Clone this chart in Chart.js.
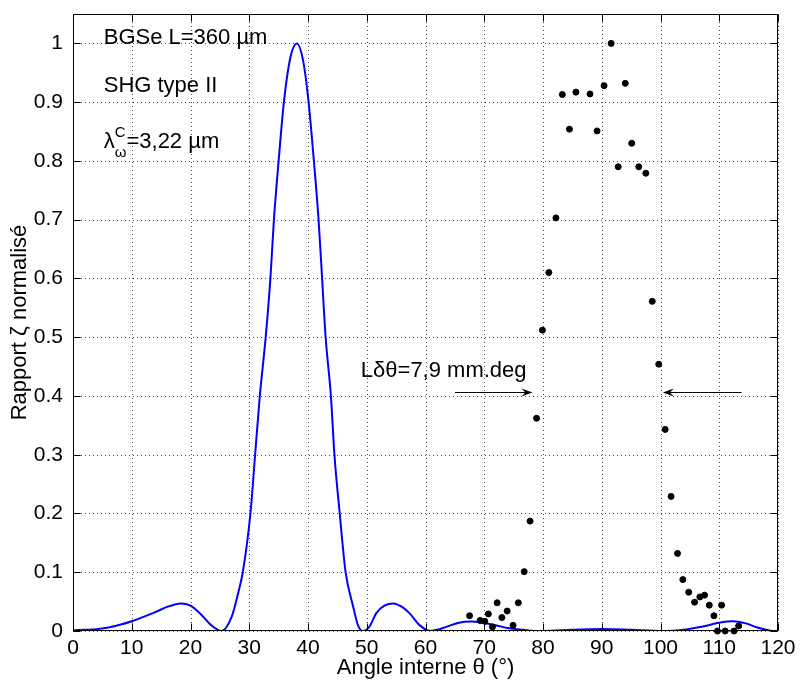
<!DOCTYPE html>
<html><head><meta charset="utf-8">
<script src="https://cdn.jsdelivr.net/npm/chart.js@4/dist/chart.umd.min.js"></script>
<style>html,body{margin:0;padding:0;background:#fff}canvas{display:block}</style>
</head><body>
<canvas id="c" width="800" height="681"></canvas>
<script>
// Theoretical curve
const curveX = [0,2,4,6,8,10,12,14,16,18.4,20,22,23.5,25.3,27,28,28.9,30.2,31.0,31.8,32.8,33.6,34.2,35.0,35.9,37,38.1,39.2,40.1,41.0,41.8,42.4,43.0,43.9,44.5,45.4,46.4,47.7,48.5,49.3,50.5,51.6,53,54.5,56,57.3,59,60.8,62,63.5,65.5,67.8,70,72.1,74,75.5,78,80,85,90,95,100,102,104,106,108,110,112.3,114.5,116.5,118.5,119.7,120];
const curveY = [0.001,0.002,0.003,0.006,0.0105,0.0165,0.024,0.032,0.041,0.047,0.043,0.026,0.01,0,0.024,0.06,0.1,0.2,0.3,0.4,0.5,0.6,0.7,0.8,0.9,0.976,1.0,0.969,0.9,0.8,0.7,0.6,0.5,0.4,0.3,0.2,0.1,0.041,0.01,0,0.008,0.03,0.043,0.047,0.041,0.03,0.01,0,0.002,0.007,0.0135,0.016,0.0135,0.0095,0.005,0.003,0.0005,0,0.002,0.0035,0.002,0,0.0005,0.002,0.0055,0.0095,0.014,0.0165,0.013,0.006,0.001,0,0];
// Measured points
const dotX = [67.5,69.3,70.1,70.7,71.4,72.2,73.0,73.9,74.9,75.8,76.8,77.8,78.9,79.9,81.0,82.2,83.3,84.5,85.6,88.0,89.2,90.4,91.6,92.8,94.0,95.1,96.3,97.5,98.6,99.7,100.8,101.8,102.9,103.8,104.8,105.8,106.7,107.5,108.3,109.1,109.7,110.4,111.0,112.5,113.3];
const dotY = [0.026,0.018,0.0165,0.029,0.007,0.048,0.023,0.034,0.0097,0.048,0.101,0.187,0.362,0.512,0.610,0.703,0.913,0.854,0.917,0.914,0.851,0.928,1.0,0.790,0.932,0.830,0.790,0.779,0.561,0.454,0.343,0.229,0.132,0.0875,0.066,0.049,0.058,0.061,0.044,0.026,0,0.044,0,0,0.0085];
// Ticks
const xTicks = [0,10,20,30,40,50,60,70,80,90,100,110,120];
const yTicks = [0,0.1,0.2,0.3,0.4,0.5,0.6,0.7,0.8,0.9,1];
const xLabel = 'Angle interne θ (°)';
const yLabel = 'Rapport ζ normalisé';
const noteLines = ['BGSe L=360 µm', 'SHG type II'];
const widthNote = 'Lδθ=7,9 mm.deg';

const FONT = '"Liberation Sans", Arial, Helvetica, sans-serif';

const gridPlugin = {
  id: 'dotgrid',
  beforeDatasetsDraw(chart) {
    const {ctx, chartArea: a, scales: {x, y}} = chart;
    ctx.save();
    ctx.strokeStyle = 'rgba(0,0,0,0.7)';
    ctx.lineWidth = 1;
    ctx.setLineDash([1, 3]);
    ctx.beginPath();
    xTicks.forEach(v => {
      const p = Math.round(x.getPixelForValue(v)) + 0.5;
      ctx.moveTo(p, a.top); ctx.lineTo(p, a.bottom);
    });
    yTicks.forEach(v => {
      const p = Math.round(y.getPixelForValue(v)) + 0.5;
      ctx.moveTo(a.left, p); ctx.lineTo(a.right, p);
    });
    ctx.stroke();
    ctx.restore();
  }
};

const deco = {
  id: 'deco',
  afterDraw(chart) {
    const {ctx, chartArea: a, scales: {x, y}} = chart;
    ctx.save();
    const L = Math.round(a.left) + 0.5, R = Math.round(a.right) - 0.5;
    const T = Math.round(a.top) + 0.5, B = Math.round(a.bottom) - 0.5;
    ctx.strokeStyle = '#000';
    ctx.lineWidth = 1;
    ctx.setLineDash([]);
    ctx.beginPath();
    ctx.rect(L, T, R - L, B - T);
    const tl = 7;
    xTicks.forEach(v => {
      const p = Math.round(x.getPixelForValue(v)) + 0.5;
      ctx.moveTo(p, B); ctx.lineTo(p, B - tl);
      ctx.moveTo(p, T); ctx.lineTo(p, T + tl);
    });
    yTicks.forEach(v => {
      const p = Math.round(y.getPixelForValue(v)) + 0.5;
      ctx.moveTo(L, p); ctx.lineTo(L + tl, p);
      ctx.moveTo(R, p); ctx.lineTo(R - tl, p);
    });
    ctx.stroke();

    // annotations
    ctx.fillStyle = '#000';
    ctx.textBaseline = 'alphabetic';
    ctx.textAlign = 'left';
    ctx.font = '22px ' + FONT;
    const tx = x.getPixelForValue(5.23);
    ctx.fillText(noteLines[0], tx, y.getPixelForValue(0.9983));
    ctx.fillText(noteLines[1], tx, y.getPixelForValue(0.9166));
    const by = y.getPixelForValue(0.8218);
    ctx.fillText('λ', tx, by);
    const lw = ctx.measureText('λ').width;
    ctx.font = '15px ' + FONT;
    ctx.fillText('C', tx + lw, by - 11);
    ctx.fillText('ω', tx + lw, by + 9);
    const sw = Math.max(ctx.measureText('C').width, ctx.measureText('ω').width);
    ctx.font = '22px ' + FONT;
    ctx.fillText('=3,22 µm', tx + lw + sw, by);

    ctx.textAlign = 'right';
    ctx.fillText(widthNote, x.getPixelForValue(77.2), y.getPixelForValue(0.432));

    // arrows
    const arrow = (x0, x1, yv) => {
      const px0 = x.getPixelForValue(x0), px1 = x.getPixelForValue(x1);
      const py = Math.round(y.getPixelForValue(yv)) + 0.5;
      const d = Math.sign(px1 - px0);
      ctx.beginPath();
      ctx.moveTo(px0, py); ctx.lineTo(px1 - d * 6, py);
      ctx.stroke();
      ctx.beginPath();
      ctx.moveTo(px1, py);
      ctx.lineTo(px1 - d * 11, py - 4);
      ctx.lineTo(px1 - d * 7, py);
      ctx.lineTo(px1 - d * 11, py + 4);
      ctx.closePath();
      ctx.fill();
    };
    arrow(65.0, 78.2, 0.406);
    arrow(113.8, 100.4, 0.406);
    ctx.restore();
  }
};

new Chart(document.getElementById('c'), {
  type: 'scatter',
  data: {
    datasets: [
      {
        label: 'mesures',
        data: dotX.map((v, i) => ({x: v, y: dotY[i]})),
        pointRadius: 3,
        pointBorderWidth: 1,
        pointBackgroundColor: '#000',
        pointBorderColor: '#000',
        showLine: false,
        clip: false,
        order: 0
      },
      {
        label: 'théorie',
        data: curveX.map((v, i) => ({x: v, y: curveY[i]})),
        showLine: true,
        pointRadius: 0,
        borderColor: '#0000ff',
        borderWidth: 2,
        cubicInterpolationMode: 'monotone',
        order: 1
      }
    ]
  },
  options: {
    responsive: false,
    animation: false,
    devicePixelRatio: 1,
    layout: {padding: {top: 14, right: 22, left: 0, bottom: 0}},
    plugins: {legend: {display: false}, tooltip: {enabled: false}},
    scales: {
      x: {
        type: 'linear', min: 0, max: 120,
        afterBuildTicks: s => { s.ticks = xTicks.map(v => ({value: v})); },
        afterFit: s => { s.height = 50; s.paddingLeft = 0; s.paddingRight = 0; },
        grid: {display: false, drawTicks: false},
        border: {display: false},
        ticks: {padding: 5, color: '#000', font: {family: FONT, size: 21}, maxRotation: 0, callback: v => String(v)},
        title: {display: true, text: xLabel, color: '#000', font: {family: FONT, size: 22}, padding: {top: 0, bottom: 0}}
      },
      y: {
        type: 'linear', min: 0, max: 1.05,
        afterBuildTicks: s => { s.ticks = yTicks.map(v => ({value: v})); },
        afterFit: s => { s.width = 73; s.paddingTop = 0; s.paddingBottom = 0; },
        grid: {display: false, drawTicks: false},
        border: {display: false},
        ticks: {padding: 10, color: '#000', font: {family: FONT, size: 21}, callback: v => String(v)},
        title: {display: true, text: yLabel, color: '#000', font: {family: FONT, size: 22}, padding: {top: 7, bottom: 0}}
      }
    }
  },
  plugins: [gridPlugin, deco]
});
</script>
</body></html>
